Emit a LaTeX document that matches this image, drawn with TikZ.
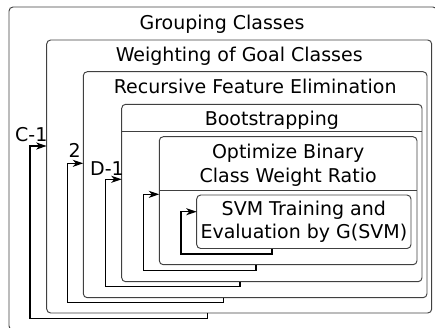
\documentclass[tikz,border=0pt]{standalone}
\usepackage{fontspec}
\setmainfont{DejaVu Sans}
\usetikzlibrary{arrows.meta}
\begin{document}
\begin{tikzpicture}[x=1pt,y=-1pt,
  box/.style={draw=black!75, line width=0.95pt, rounded corners=4pt, inner sep=0pt, outer sep=0pt, anchor=north west},
  sepline/.style={draw=black!75, line width=0.95pt},
  fb/.style={line width=1.2pt, black, -{Stealth[length=10.5pt,width=7pt,inset=3pt]}},
  ttl/.style={font=\fontsize{19}{23.3}\selectfont, anchor=base, inner sep=0pt, align=center},
  lbl/.style={font=\fontsize{19}{23.3}\selectfont, anchor=base west, inner sep=0pt}]
\useasboundingbox (0,0) rectangle (435,327);
\clip (0,0) rectangle (435,327);
% nested boxes
\node[box, minimum width=428pt, minimum height=323pt] (grp) at (9,7) {};
\node[box, minimum width=385pt, minimum height=273pt] (wgt) at (46.7,40) {};
\node[box, minimum width=343.7pt, minimum height=226pt] (rfe) at (83.3,71.7) {};
\node[box, minimum width=300.3pt, minimum height=177.4pt] (bst) at (121.7,104.3) {};
\node[box, minimum width=257.7pt, minimum height=128pt] (opt) at (159.3,136.7) {};
\node[box, minimum width=214.3pt, minimum height=53.5pt] (svm) at (196.7,195) {};
% header separators
\draw[sepline] (bst.west |- 0,131) -- (bst.east |- 0,131);
\draw[sepline] (opt.west |- 0,190) -- (opt.east |- 0,190);
% titles
\node[ttl] (tgrp) at (222,29.5) {Grouping Classes};
\node[ttl] (twgt) at (wgt.north |- 0,61) {Weighting of Goal Classes};
\node[ttl] (trfe) at (rfe.north |- 0,93) {Recursive Feature Elimination};
\node[ttl] (tbst) at (bst.north |- 0,125) {Bootstrapping};
\node[ttl] (topt) at (opt.north |- 0,182) {Optimize Binary\\Class Weight Ratio};
\node[ttl] (tsvm) at (svm.north |- 0,238.7) {SVM Training and\\Evaluation by G(SVM)};
% feedback loops
\draw[fb] (207.7,0 |- wgt.south) -- (207.7,318.7) -- (30,318.7) -- (30,146) -- (wgt.west |- 0,146);
\draw[fb] (223.3,0 |- rfe.south) -- (223.3,302.7) -- (67.7,302.7) -- (67.7,163.3) -- (rfe.west |- 0,163.3);
\draw[fb] (240,0 |- bst.south) -- (240,286.7) -- (105.7,286.7) -- (105.7,179.3) -- (bst.west |- 0,179.3);
\draw[fb] (256,0 |- opt.south) -- (256,270.3) -- (143.3,270.3) -- (143.3,194.3) -- (opt.west |- 0,194.3);
\draw[fb] (272,0 |- svm.south) -- (272,254) -- (181,254) -- (181,211.7) -- (svm.west |- 0,211.7);
% loop labels
\node[lbl] (lc) at (15,141.7) {C-1};
\node[lbl] (l2) at (68.3,157.3) {2};
\node[lbl] (ld) at (90,175) {D-1};
\end{tikzpicture}
\end{document}
